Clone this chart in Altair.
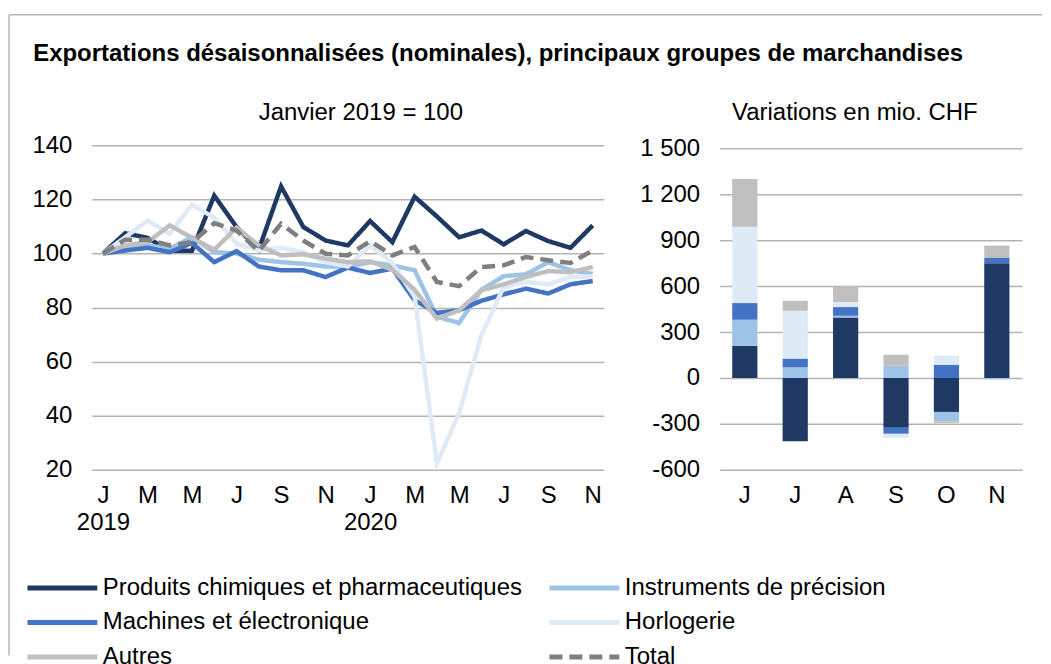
import json
import altair as alt
import pandas as pd

FONT = "Liberation Sans"

# ---------------- data ----------------
months = ["2019-01", "2019-02", "2019-03", "2019-04", "2019-05", "2019-06",
          "2019-07", "2019-08", "2019-09", "2019-10", "2019-11", "2019-12",
          "2020-01", "2020-02", "2020-03", "2020-04", "2020-05", "2020-06",
          "2020-07", "2020-08", "2020-09", "2020-10", "2020-11"]
month_letters = ["J", "F", "M", "A", "M", "J", "J", "A", "S", "O", "N", "D"]

series = ["Produits chimiques et pharmaceutiques", "Instruments de précision",
          "Machines et électronique", "Horlogerie", "Autres", "Total"]
colors = ["#203864", "#9DC3E6", "#4472C4", "#DEEBF7", "#BFBFBF", "#7F7F7F"]
dashes = [[1, 0], [1, 0], [1, 0], [1, 0], [1, 0], [13, 7]]
# legend is filled column by column: this order gives the reference's rows
legend_order = [0, 2, 4, 1, 3, 5]

chem = [100, 107.5, 105.8, 101, 101, 121.4, 109.8, 101.5, 124.8, 109.8, 104.8, 103,
        112, 104.2, 121, 113.7, 106, 108.5, 103.4, 108.3, 104.6, 102.1, 110.4]
instr = [100, 101.4, 103, 101.8, 106, 100.5, 100, 97.7, 96.8, 96.2, 95.2, 95,
         96.8, 95.6, 93.8, 76.6, 74.3, 86.6, 91.6, 92.3, 96.8, 93.8, 92.5]
mach = [100, 101.1, 102.1, 100.5, 103.9, 96.8, 100.9, 95.2, 93.8, 93.8, 91.3, 94.8,
        92.8, 94.4, 82.7, 78, 79, 82.5, 84.9, 87, 85.2, 88.6, 89.8]
horlog = [100, 106, 112.2, 107.3, 118.1, 113.2, 103.6, 101.1, 102.1, 100.5, 96.8, 95.2,
          103, 96.5, 84, 22.5, 40.9, 69.8, 87.6, 89.5, 88.6, 91.3, 91.6]
autres = [100, 103, 104.2, 110.4, 105.8, 101.4, 109.5, 103, 99.3, 99.7, 98.1, 96.8,
          97.1, 94, 86.6, 75.9, 79, 86.4, 88.6, 91.3, 93.5, 93.1, 95]
total = [100, 105.1, 105.1, 103, 104.2, 111.2, 108.5, 100.9, 111, 104.8, 99.9, 99.3,
         104.6, 99.3, 102.4, 89.5, 87.9, 95, 95.6, 98.7, 97.5, 96.5, 101.1]

bar_months = ["Juin", "Juillet", "Août", "Septembre", "Octobre", "Novembre"]
chem_d = [211, -413, 396, -326, -222, 751]
instr_d = [170, 70, 11, 80, -61, -8]
mach_d = [109, 57, 57, -39, 87, 37]
horlog_d = [500, 313, 33, -26, 59, 0]
autres_d = [311, 65, 102, 72, -11, 78]

left_ticks = [20, 40, 60, 80, 100, 120, 140]
right_ticks = [-600, -300, 0, 300, 600, 900, 1200, 1500]

# ---------------- tables ----------------
line_rows = []
for s, vals in zip(series, [chem, instr, mach, horlog, autres, total]):
    for m, v in zip(months, vals):
        line_rows.append({"month": m, "series": s, "value": v})
line_df = pd.DataFrame(line_rows)

bar_rows = []
for i, (s, vals) in enumerate(zip(series[:5], [chem_d, instr_d, mach_d, horlog_d, autres_d])):
    for m, v in zip(bar_months, vals):
        bar_rows.append({"month": m, "series": s, "value": v, "idx": i})
bar_df = pd.DataFrame(bar_rows)

leg_domain = [series[i] for i in legend_order]
leg_colors = [colors[i] for i in legend_order]
leg_dashes = [dashes[i] for i in legend_order]

# ---------------- left chart ----------------
L = json.dumps(month_letters)
mexpr = "toNumber(slice(datum.value, 5))"
x_label_expr = (f"{mexpr} % 2 == 1 ? ({mexpr} == 1 ? [{L}[{mexpr} - 1], slice(datum.value, 0, 4)]"
                f" : {L}[{mexpr} - 1]) : ''")

legend = alt.Legend(
    title=None, orient="none", legendX=-67, legendY=431, columns=2,
    symbolType="stroke", symbolSize=4900, symbolStrokeWidth=5, clipHeight=25,
    labelFont=FONT, labelFontSize=24, labelColor="black", labelLimit=0,
    labelOffset=3, columnPadding=24, rowPadding=9.5, padding=0,
)

lines = alt.Chart(line_df).mark_line(strokeWidth=4.5).encode(
    x=alt.X("month:O", sort=months, title=None,
            axis=alt.Axis(labelExpr=x_label_expr, labelAngle=0, labelPadding=14,
                          labelLineHeight=27, labelOverlap=False, grid=False)),
    y=alt.Y("value:Q", title=None,
            scale=alt.Scale(domain=[20, 140], nice=False, zero=False),
            axis=alt.Axis(values=left_ticks, labelPadding=20)),
    color=alt.Color("series:N", scale=alt.Scale(domain=leg_domain, range=leg_colors),
                    legend=legend),
    strokeDash=alt.StrokeDash("series:N",
                              scale=alt.Scale(domain=leg_domain, range=leg_dashes),
                              legend=legend),
)

frame_src = alt.Data(values=[{"k": 0}])
frame_top = alt.Chart(frame_src).mark_rule(color="#B5B5B5", strokeWidth=1.5).encode(
    x=alt.value(-83), x2=alt.value(952), y=alt.value(-131))
frame_left = alt.Chart(frame_src).mark_rule(color="#B5B5B5", strokeWidth=1.5).encode(
    x=alt.value(-83), y=alt.value(-131), y2=alt.value(511))

left = alt.layer(frame_top, frame_left, lines).properties(
    width=513, height=325,
    title=alt.TitleParams("Janvier 2019 = 100", font=FONT, fontSize=24,
                          fontWeight="normal", color="black", anchor="middle",
                          frame="group", baseline="middle", offset=-123, dx=13),
)

# ---------------- right chart ----------------
y_label_expr = ("(datum.value < 0 ? '-' : '') + "
                "replace(format(abs(datum.value), ','), ',', ' ')")

bars = alt.Chart(bar_df).mark_bar().encode(
    x=alt.X("month:N", sort=bar_months, title=None,
            scale=alt.Scale(paddingInner=0.5, paddingOuter=0.25),
            axis=alt.Axis(labelExpr="upper(slice(datum.value, 0, 1))", labelAngle=0,
                          labelPadding=14, grid=False)),
    y=alt.Y("value:Q", stack="zero", title=None,
            scale=alt.Scale(domain=[-600, 1521.5], nice=False, zero=False),
            axis=alt.Axis(values=right_ticks, labelExpr=y_label_expr, labelPadding=20)),
    color=alt.Color("series:N", sort=series[:5],
                    scale=alt.Scale(domain=series[:5], range=colors[:5]), legend=None),
    order=alt.Order("idx:Q", sort="ascending"),
)

right = bars.properties(
    width=303, height=325,
    title=alt.TitleParams("Variations en mio. CHF", font=FONT, fontSize=24,
                          fontWeight="normal", color="black", anchor="middle",
                          frame="group", baseline="middle", offset=0, dx=-16),
)

# ---------------- compose ----------------
chart = alt.hconcat(left, right, spacing=116, bounds="flush").resolve_scale(
    color="independent", strokeDash="independent"
).properties(
    title=alt.TitleParams(
        "Exportations désaisonnalisées (nominales), principaux groupes de marchandises",
        font=FONT, fontSize=24, fontWeight="bold", color="black", anchor="start",
        baseline="middle", offset=-64, dx=25),
    padding={"left": 0, "top": 5, "right": 0, "bottom": 0},
    background="white",
).configure_view(stroke=None).configure_axis(
    labelFont=FONT, labelFontSize=24, labelColor="black",
    domain=False, ticks=False, gridColor="#B3B3B3", gridWidth=1.5,
)

chart.save("out.html", embed_options={"renderer": "svg", "actions": False})
